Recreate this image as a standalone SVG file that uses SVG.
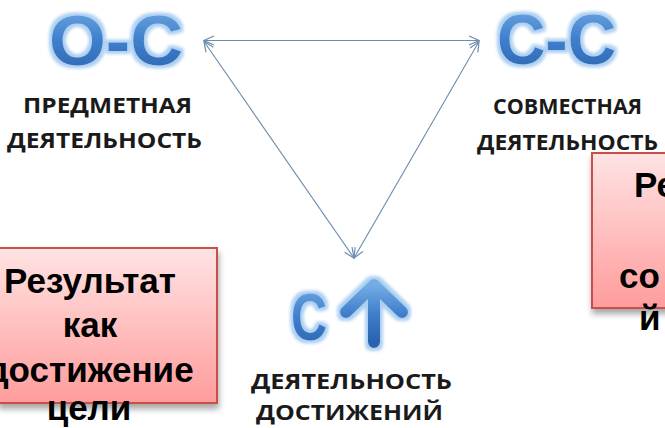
<svg xmlns="http://www.w3.org/2000/svg" width="665" height="428" viewBox="0 0 665 428">
  <defs>
    <linearGradient id="blueFill" x1="0" y1="0" x2="0" y2="1">
      <stop offset="0" stop-color="#74ace3"/>
      <stop offset="0.5" stop-color="#3f7fcc"/>
      <stop offset="1" stop-color="#2a62ad"/>
    </linearGradient>
    <linearGradient id="pinkFill" x1="0" y1="0" x2="0" y2="1">
      <stop offset="0" stop-color="#ffe3e3"/>
      <stop offset="1" stop-color="#ff9c9c"/>
    </linearGradient>
    <filter id="glow" x="-20%" y="-30%" width="140%" height="160%">
      <feMorphology in="SourceAlpha" operator="dilate" radius="2.5" result="d"/>
      <feGaussianBlur in="d" stdDeviation="1.6" result="b"/>
      <feFlood flood-color="#add0f2"/>
      <feComposite in2="b" operator="in" result="g"/>
      <feMerge>
        <feMergeNode in="g"/>
        <feMergeNode in="SourceGraphic"/>
      </feMerge>
    </filter>
    <filter id="shadow" x="-20%" y="-20%" width="140%" height="150%">
      <feDropShadow dx="1" dy="5" stdDeviation="3" flood-color="#000" flood-opacity="0.35"/>
    </filter>
    <marker id="arr" viewBox="0 0 12 12" refX="11" refY="6" markerWidth="12" markerHeight="12" markerUnits="userSpaceOnUse" orient="auto-start-reverse">
      <path d="M1,1.5 L11,6 L1,10.5" fill="none" stroke="#6d8cab" stroke-width="1.2"/>
    </marker>
    <style>
      .big { font-family: "Liberation Sans", Arial, sans-serif; font-weight: 700; fill: url(#blueFill); }
      .lbl { font-family: "Open Sans", "Noto Sans", sans-serif; font-weight: 700; fill: #1a1a1a; font-size: 22px; }
      .box { fill: url(#pinkFill); stroke: #c9504c; stroke-width: 2; }
      .bt { font-family: "Liberation Sans", Arial, sans-serif; font-weight: 700; font-size: 35px; fill: #000; }
      .conn { stroke: #6d8cab; stroke-width: 1.1; fill: none; }
    </style>
  </defs>

  <rect width="665" height="428" fill="#ffffff"/>

  <g id="connectors">
    <line class="conn" x1="204" y1="40.5" x2="479" y2="40.5" marker-start="url(#arr)" marker-end="url(#arr)"/>
    <line class="conn" x1="204" y1="41.5" x2="354" y2="258" marker-start="url(#arr)" marker-end="url(#arr)"/>
    <line class="conn" x1="479" y1="41.5" x2="354" y2="258" marker-start="url(#arr)" marker-end="url(#arr)"/>
  </g>

  <g id="node-os">
    <text class="big" x="49" y="65" font-size="71" textLength="134" lengthAdjust="spacingAndGlyphs" filter="url(#glow)">О-С</text>
    <text class="lbl" x="23" y="113" textLength="169" lengthAdjust="spacingAndGlyphs">ПРЕДМЕТНАЯ</text>
    <text class="lbl" x="7" y="148" textLength="195" lengthAdjust="spacingAndGlyphs">ДЕЯТЕЛЬНОСТЬ</text>
  </g>

  <g id="node-ss">
    <text class="big" x="497" y="64" font-size="71" textLength="119" lengthAdjust="spacingAndGlyphs" filter="url(#glow)">С-С</text>
    <text class="lbl" x="493" y="114" textLength="149" lengthAdjust="spacingAndGlyphs">СОВМЕСТНАЯ</text>
    <text class="lbl" x="477" y="150" textLength="181" lengthAdjust="spacingAndGlyphs">ДЕЯТЕЛЬНОСТЬ</text>
  </g>

  <g id="node-sup">
    <g filter="url(#glow)">
      <text class="big" x="291" y="340" font-size="66" textLength="36" lengthAdjust="spacingAndGlyphs">С</text>
      <path d="M374,342 L374,290 M346,312 L374,285 L402,312" fill="none" stroke="url(#blueFill)" stroke-width="12" stroke-linecap="round" stroke-linejoin="round"/>
    </g>
    <text class="lbl" x="251" y="389" font-size="23" textLength="201" lengthAdjust="spacingAndGlyphs">ДЕЯТЕЛЬНОСТЬ</text>
    <text class="lbl" x="256" y="420" font-size="23" textLength="187" lengthAdjust="spacingAndGlyphs">ДОСТИЖЕНИЙ</text>
  </g>

  <g id="box-left">
    <rect class="box" x="-2" y="248" width="219" height="155" filter="url(#shadow)"/>
    <text class="bt" x="90" y="293" text-anchor="middle">Результат</text>
    <text class="bt" x="90" y="337" text-anchor="middle">как</text>
    <text class="bt" x="90" y="382" text-anchor="middle">достижение</text>
    <text class="bt" x="89" y="420" text-anchor="middle">цели</text>
  </g>

  <g id="box-right">
    <rect class="box" x="592" y="153" width="90" height="155" filter="url(#shadow)"/>
    <text class="bt" x="634" y="197">Ре</text>
    <text class="bt" x="619" y="288">со</text>
    <text class="bt" x="639" y="330">й</text>
  </g>
</svg>
